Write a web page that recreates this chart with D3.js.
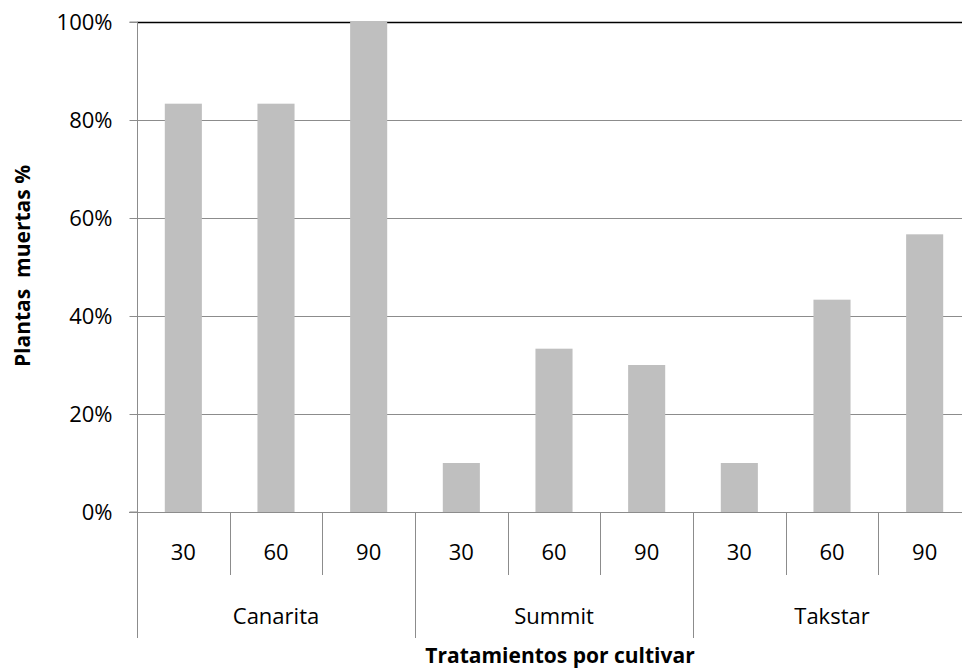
<!DOCTYPE html>
<html>
<head>
<meta charset="utf-8">
<script src="https://cdn.jsdelivr.net/npm/d3@7"></script>
<style>
  body { margin: 0; background: #fff; }
  svg { display: block; font-family: "Open Sans", "Noto Sans", sans-serif; }
</style>
</head>
<body>
<svg id="chart" width="962" height="670"></svg>
<script>
// Mortality per treatment (days) within each cultivar
const cultivars = ["Canarita", "Summit", "Takstar"];
const treatments = ["30", "60", "90"];
const values = [83.33, 83.33, 100, 10, 33.33, 30, 10, 43.33, 56.67];
const yTicks = [0, 20, 40, 60, 80, 100];

const rows = [];
cultivars.forEach((c, i) => treatments.forEach((t, j) => {
  rows.push({ key: c + "-" + t, cultivar: c, treatment: t, value: values[i * treatments.length + j] });
}));

const svg = d3.select("#chart");
const plotLeft = 137, plotTop = 22, plotW = 834, plotBottom = 512;
const fontFamily = "'Open Sans', 'Noto Sans', sans-serif";

const x = d3.scaleBand().domain(rows.map(d => d.key)).range([plotLeft, plotLeft + plotW]).paddingInner(0).paddingOuter(0);
const y = d3.scaleLinear().domain([0, 100]).range([plotBottom, plotTop]);
const gridColor = "#8c8c8c";

// Horizontal gridlines
svg.append("g").selectAll("line").data(yTicks.filter(v => v > 0)).join("line")
  .attr("x1", plotLeft).attr("x2", plotLeft + plotW)
  .attr("y1", d => Math.round(y(d)) + 0.5).attr("y2", d => Math.round(y(d)) + 0.5)
  .attr("stroke", d => d === 100 ? "#000" : gridColor)
  .attr("stroke-width", d => d === 100 ? 1.5 : 1);

// Bars
const bw = x.bandwidth() * 0.4;
svg.append("g").selectAll("rect").data(rows).join("rect")
  .attr("x", d => x(d.key) + (x.bandwidth() - bw) / 2)
  .attr("width", bw)
  .attr("y", d => y(d.value))
  .attr("height", d => y(0) - y(d.value))
  .attr("fill", "#bfbfbf");

// Y axis
const yAxis = d3.axisLeft(y).tickValues(yTicks).tickSize(8).tickFormat(d => d + "%");
const gy = svg.append("g").attr("transform", `translate(${plotLeft + 0.5},0)`).call(yAxis);
gy.select(".domain").attr("stroke", gridColor).attr("d", `M-8,${y(100)}H0V${plotBottom}H-8`);
gy.selectAll(".tick line").attr("stroke", gridColor);
gy.selectAll(".tick text").attr("font-size", 22).attr("fill", "#000").attr("x", -25)
  .attr("font-family", fontFamily);

// X baseline
svg.append("line").attr("x1", plotLeft - 8).attr("x2", plotLeft + plotW)
  .attr("y1", plotBottom + 0.5).attr("y2", plotBottom + 0.5).attr("stroke", gridColor);

// Category separators: short within a cultivar, long between cultivars
const sepG = svg.append("g");
rows.forEach((d, i) => {
  const xs = Math.round(x(d.key)) + 0.5;
  const isGroupStart = i % treatments.length === 0;
  sepG.append("line").attr("x1", xs).attr("x2", xs)
    .attr("y1", plotBottom).attr("y2", isGroupStart ? 638 : 575)
    .attr("stroke", gridColor);
});

// Treatment labels
svg.append("g").selectAll("text").data(rows).join("text")
  .attr("x", d => x(d.key) + x.bandwidth() / 2)
  .attr("y", 560)
  .attr("text-anchor", "middle").attr("font-size", 22).text(d => d.treatment);

// Cultivar labels
svg.append("g").selectAll("text").data(cultivars).join("text")
  .attr("x", c => x(c + "-" + treatments[1]) + x.bandwidth() / 2)
  .attr("y", 624)
  .attr("text-anchor", "middle").attr("font-size", 22).text(c => c);

// Axis titles
svg.append("text").attr("x", 560).attr("y", 663).attr("text-anchor", "middle")
  .attr("font-size", 21).attr("font-weight", "bold").text("Tratamientos por cultivar");
svg.append("text").attr("transform", "translate(30,266) rotate(-90)")
  .attr("text-anchor", "middle").attr("font-size", 21).attr("font-weight", "bold")
  .attr("xml:space", "preserve").style("white-space", "pre").text("Plantas  muertas %");
</script>
</body>
</html>
